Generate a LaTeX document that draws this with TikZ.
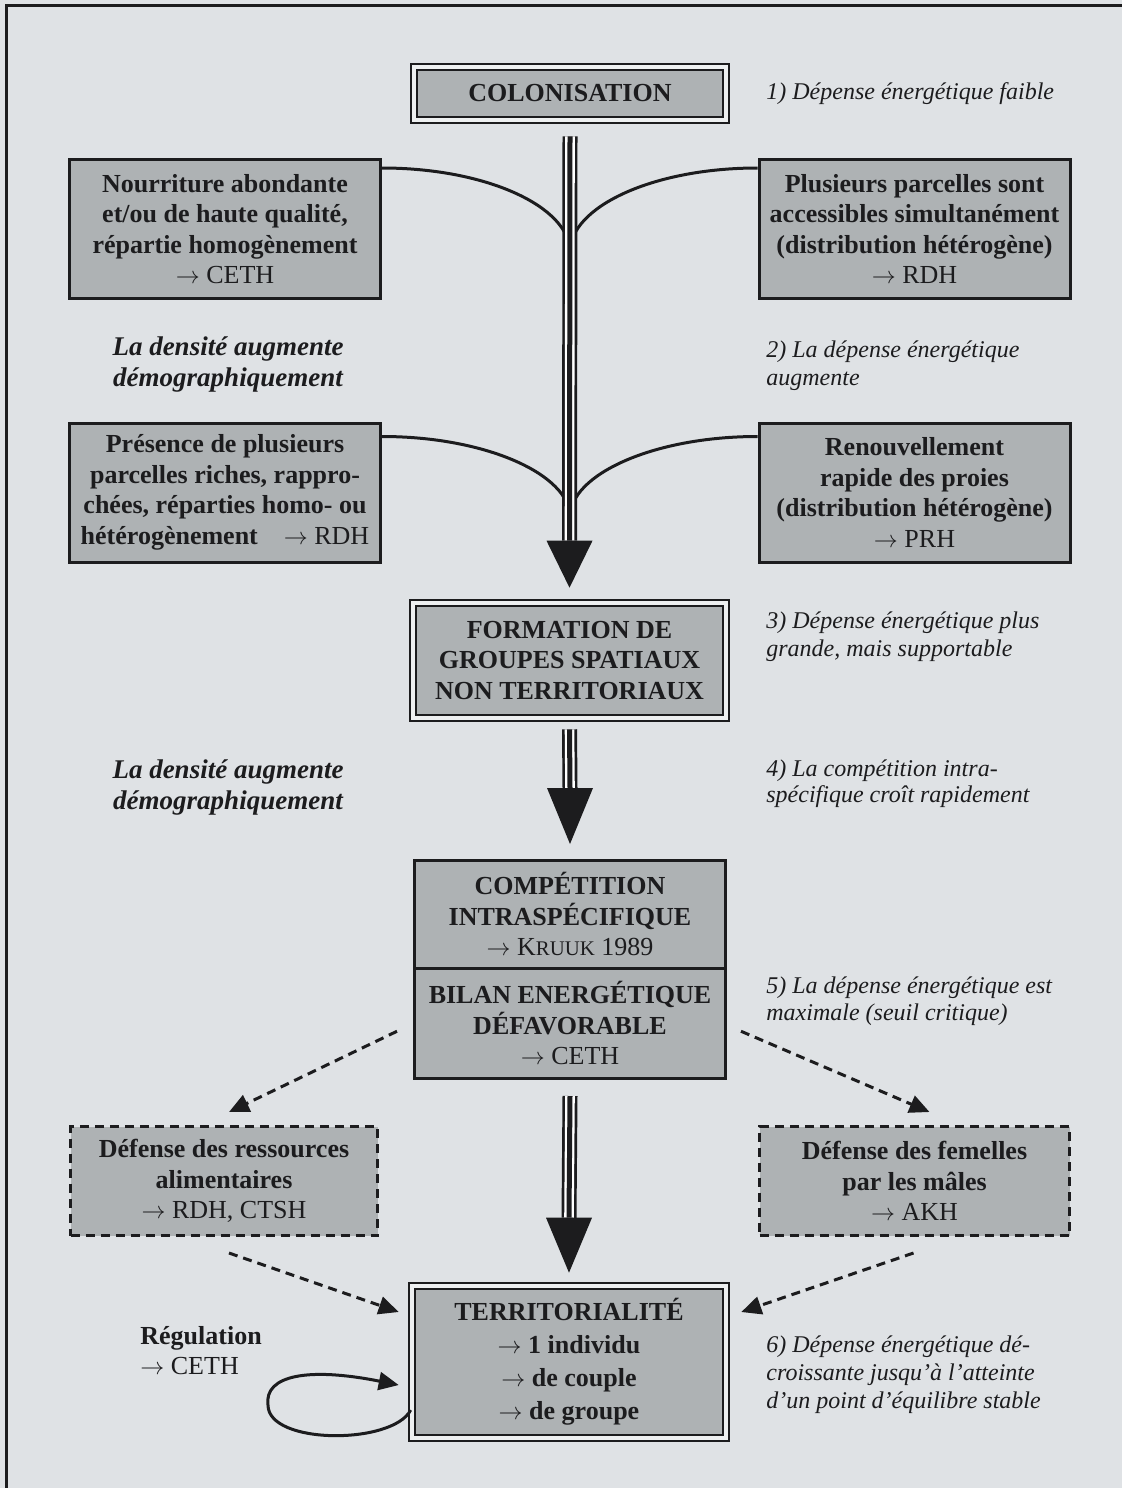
\documentclass[tikz,border=0pt]{standalone}
\usepackage{fontspec}
\setmainfont{Liberation Serif}
\usetikzlibrary{arrows.meta,calc}
\definecolor{bgcol}{HTML}{DFE2E5}
\definecolor{boxgray}{HTML}{AEB2B4}
\definecolor{gapcol}{HTML}{EEF0F1}
\definecolor{inkcol}{HTML}{1C1C1E}
\newcommand{\rarr}{$\rightarrow$}
\begin{document}
\begin{tikzpicture}[x=0.5pt,y=-0.5pt,
  boxfont/.style={font=\fontsize{13}{15.25}\selectfont\bfseries},
  sidebox/.style={draw=inkcol, line width=1.5pt, fill=boxgray, align=center, inner sep=0pt,
    minimum width=155.5pt, minimum height=69.5pt, text=inkcol, boxfont},
  dashbox/.style={sidebox, dash pattern=on 4.5pt off 3pt, minimum height=54.5pt},
  mainbox/.style={draw=inkcol, line width=1.3pt, double=gapcol, double distance=1.6pt,
    fill=boxgray, align=center, inner sep=0pt, text=inkcol, boxfont},
  plainbox/.style={draw=inkcol, line width=1.5pt, fill=boxgray, align=center, inner sep=0pt,
    minimum width=155.5pt, text=inkcol, boxfont},
  note/.style={anchor=west, align=left, inner sep=0pt, text=inkcol,
    font=\fontsize{12}{14}\selectfont\itshape},
  density/.style={align=center, inner sep=0pt, text=inkcol,
    font=\fontsize{13.5}{15.5}\selectfont\bfseries\itshape},
  curveline/.style={draw=inkcol, line width=1.5pt},
  dasharrow/.style={draw=inkcol, line width=1.5pt, dash pattern=on 4.5pt off 3pt,
    -{Triangle[length=10pt,width=9pt]}},
  loopline/.style={draw=inkcol, line width=1.5pt, -{Triangle[length=10pt,width=9pt]}},
  shaftout/.style={draw=inkcol, line width=7.5pt},
  shaftmid/.style={draw=white, line width=4.8pt},
  shaftin/.style={draw=inkcol, line width=2.5pt},
  headfill/.style={fill=inkcol}
]
\useasboundingbox (0,0) rectangle (1122,1488);
\fill[bgcol] (0,0) rectangle (1122,1488);
\draw[inkcol, line width=1.5pt] (6,1488) -- (6,5) -- (1122,5);

% ---------- boxes ----------
\node[mainbox, minimum width=156pt, minimum height=26.5pt] (col) at (570,93.5) {COLONISATION};

\node[sidebox] (L1) at (225,229) {Nourriture abondante\\et/ou de haute qualité,\\répartie homogènement\\{\mdseries \rarr\ CETH}};
\node[sidebox] (R1) at (914.5,229) {Plusieurs parcelles sont\\accessibles simultanément\\(distribution hétérogène)\\{\mdseries \rarr\ RDH}};

\node[sidebox] (L2) at (225,492.5) {Présence de plusieurs\\parcelles riches, rappro-\\chées, réparties homo- ou\\hétérogènement\quad{\mdseries \rarr\ RDH}};
\node[sidebox] (R2) at (914.5,492.5) {Renouvellement\\rapide des proies\\(distribution hétérogène)\\{\mdseries \rarr\ PRH}};

\node[mainbox, minimum width=156.5pt, minimum height=57.5pt] (form) at (569.5,660.5) {FORMATION DE\\GROUPES SPATIAUX\\NON TERRITORIAUX};

\node[plainbox, minimum height=53.75pt] (compA) at (570,914.25) {COMPÉTITION\\INTRASPÉCIFIQUE\\{\mdseries \rarr\ K{\fontsize{10.4}{12}\selectfont RUUK} 1989}};
\node[plainbox, minimum height=55.25pt] (compB) at (570,1023.25) {BILAN ENERGÉTIQUE\\DÉFAVORABLE\\{\mdseries \rarr\ CETH}};

\node[dashbox, minimum width=153.5pt] (dL) at (224,1181) {Défense des ressources\\alimentaires\\{\mdseries \rarr\ RDH, CTSH}};
\node[dashbox, minimum width=155pt] (dR) at (914.5,1181) {Défense des femelles\\par les mâles\\{\mdseries \rarr\ AKH}};

\node[mainbox, minimum width=157pt, minimum height=76pt,
  font=\fontsize{13}{16.5}\selectfont\bfseries] (terr) at (569,1362) {TERRITORIALITÉ\\\rarr\ 1 individu\\\rarr\ de couple\\\rarr\ de groupe};

% ---------- side texts ----------
\node[note] (n1) at (766,94) {1) Dépense énergétique faible};
\node[note] (n2) at (766,366) {2) La dépense énergétique\\augmente};
\node[note] (n3) at (766,637) {3) Dépense énergétique plus\\grande, mais supportable};
\node[note, font=\fontsize{12}{13}\selectfont\itshape] (n4) at (766,784) {4) La compétition intra-\\spécifique croît rapidement};
\node[note, font=\fontsize{12}{13.5}\selectfont\itshape] (n5) at (766,1001.5) {5) La dépense énergétique est\\maximale (seuil critique)};
\node[note] (n6) at (766,1375) {6) Dépense énergétique dé-\\croissante jusqu’à l’atteinte\\d’un point d’équilibre stable};

\node[density] (d1) at (228,364) {La densité augmente\\démographiquement};
\node[density] (d2) at (228,787.5) {La densité augmente\\démographiquement};

\node[anchor=west, align=left, inner sep=0pt, text=inkcol,
  font=\fontsize{13}{15}\selectfont] (reg) at (140,1351) {\textbf{Régulation}\\\rarr\ CETH};

% ---------- converging curves ----------
\coordinate (j1) at (570,252);
\coordinate (j2) at (570,517);
\draw[curveline] ($(L1.north east)+(0,10)$) .. controls +(105,0) and +(0,-45) .. (j1);
\draw[curveline] ($(R1.north west)+(0,10)$) .. controls +(-105,0) and +(0,-45) .. (j1);
\draw[curveline] ($(L2.north east)+(0,15)$) .. controls +(105,0) and +(0,-42) .. (j2);
\draw[curveline] ($(R2.north west)+(0,15)$) .. controls +(-105,0) and +(0,-42) .. (j2);

% ---------- main shafts ----------
\coordinate (s1) at ($(col.south)+(0,15)$);
\coordinate (t1) at ($(form.north)+(0,-14)$);
\coordinate (h1) at ($(t1)+(0,-47)$);
\draw[shaftout] (s1) -- (h1); \draw[shaftmid] (s1) -- (h1); \draw[shaftin] (s1) -- (h1);
\fill[headfill] ($(h1)+(-23,0)$) -- ($(h1)+(23,0)$) -- (t1) -- cycle;

\coordinate (s2) at ($(form.south)+(0,10)$);
\coordinate (t2) at ($(compA.north)+(0,-15)$);
\coordinate (h2) at ($(t2)+(0,-56)$);
\draw[shaftout] (s2) -- (h2); \draw[shaftmid] (s2) -- (h2); \draw[shaftin] (s2) -- (h2);
\fill[headfill] ($(h2)+(-23,0)$) -- ($(h2)+(23,0)$) -- (t2) -- cycle;

\coordinate (s3) at ($(compB.south)+(0,16)$);
\coordinate (t3) at ($(terr.north)+(0,-12)$);
\coordinate (h3) at ($(t3)+(0,-55)$);
\draw[shaftout] (s3) -- (h3); \draw[shaftmid] (s3) -- (h3); \draw[shaftin] (s3) -- (h3);
\fill[headfill] ($(h3)+(-23,0)$) -- ($(h3)+(23,0)$) -- (t3) -- cycle;

% ---------- dashed arrows ----------
\draw[dasharrow] ($(compB.west)+(-16,8)$) -- ($(dL.north)+(5,-13)$);
\draw[dasharrow] ($(compB.east)+(14,8)$) -- ($(dR.north)+(15,-13)$);
\draw[dasharrow] ($(dL.south)+(5,16)$) -- ($(terr.west)+(-12,-50)$);
\draw[dasharrow] ($(dR.south)+(-1,16)$) -- ($(terr.east)+(14,-50)$);

% ---------- regulation loop ----------
\draw[loopline] ($(terr.west)+(0,48)$) .. controls +(-18,35) and +(0,40) .. (268,1405)
  .. controls +(-4,-30) and +(-90,-18) .. ($(terr.west)+(-12,23)$);
\end{tikzpicture}
\end{document}
